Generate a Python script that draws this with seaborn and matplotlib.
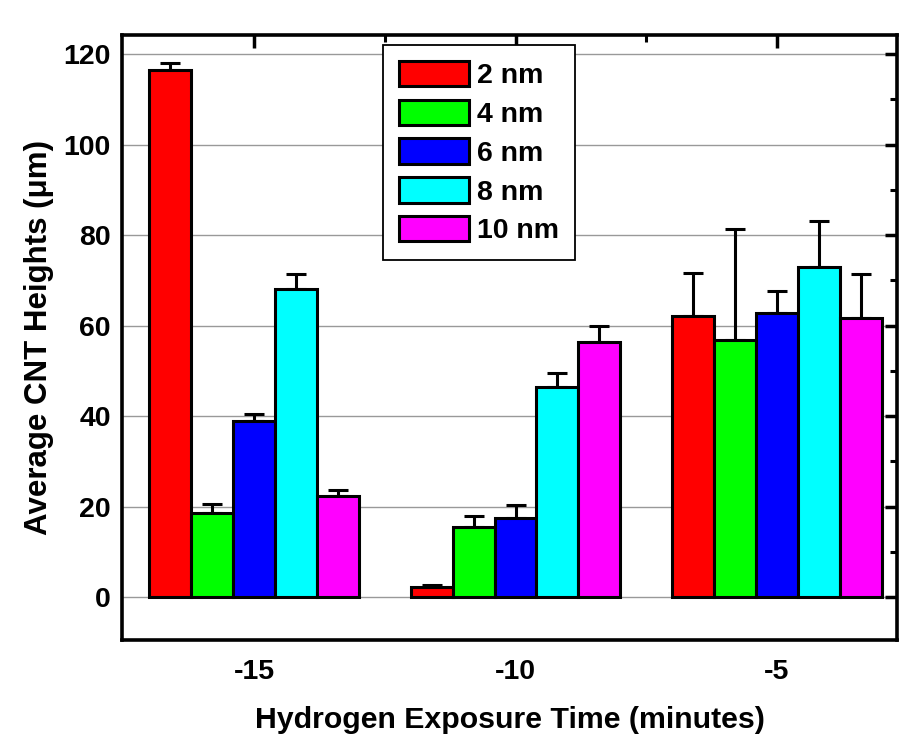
import numpy as np
import pandas as pd
import matplotlib
matplotlib.use("Agg")
import matplotlib.pyplot as plt
from matplotlib.patches import Patch
from matplotlib.ticker import MultipleLocator, FixedLocator
import seaborn as sns

# data
times = ["-15", "-10", "-5"]
sizes = ["2 nm", "4 nm", "6 nm", "8 nm", "10 nm"]
h_2nm = [116.5, 2.2, 62.0]
h_4nm = [18.6, 15.4, 56.8]
h_6nm = [38.8, 17.5, 62.8]
h_8nm = [68.0, 46.4, 72.9]
h_10nm = [22.3, 56.3, 61.7]
e_2nm = [1.5, 0.4, 9.6]
e_4nm = [2.0, 2.6, 24.5]
e_6nm = [1.7, 2.8, 4.9]
e_8nm = [3.3, 3.1, 10.3]
e_10nm = [1.3, 3.6, 9.6]
colors = ["#FF0000", "#00FF00", "#0000FF", "#00FFFF", "#FF00FF"]

heights = [h_2nm, h_4nm, h_6nm, h_8nm, h_10nm]
errors = [e_2nm, e_4nm, e_6nm, e_8nm, e_10nm]

rows = []
for s, hs, es in zip(sizes, heights, errors):
    for t, h, e in zip(times, hs, es):
        rows.append({"time": t, "size": s, "height": h, "err": e})
df = pd.DataFrame(rows)

sns.set_theme(style="white")
plt.rcParams["font.family"] = ["Liberation Sans", "DejaVu Sans"]
plt.rcParams["font.weight"] = "bold"
plt.rcParams["text.color"] = "black"
plt.rcParams["axes.labelcolor"] = "black"
plt.rcParams["xtick.color"] = "black"
plt.rcParams["ytick.color"] = "black"

fig = plt.figure(figsize=(9.01, 7.43), dpi=100)
ax = fig.add_axes([0.1354, 0.1386, 0.8602, 0.8143])

pal = dict(zip(sizes, colors))
sns.barplot(data=df, x="time", y="height", hue="size", order=times,
            hue_order=sizes, palette=pal, edgecolor="black", linewidth=2.2,
            saturation=1, width=0.8, legend=False, ax=ax, zorder=3)

# upper error bars only
for cont, s in zip(ax.containers, sizes):
    sub = df[df["size"] == s].set_index("time").loc[times]
    xs = [b.get_x() + b.get_width() / 2 for b in cont]
    ys = [b.get_height() for b in cont]
    ax.errorbar(xs, ys, yerr=[np.zeros(len(xs)), sub["err"].values],
                fmt="none", ecolor="black", elinewidth=2.2, capsize=7,
                capthick=2.2, zorder=2)

ax.set_ylim(-9.5, 124.2)
ax.set_xlim(-0.505, 2.459)
ax.yaxis.set_major_locator(MultipleLocator(20))
ax.yaxis.set_minor_locator(MultipleLocator(10))
ax.xaxis.set_minor_locator(FixedLocator([0.5, 1.5]))
ax.yaxis.grid(True, color="#999999", linewidth=1)
ax.set_axisbelow(True)

for sp in ax.spines.values():
    sp.set_linewidth(2.6)
    sp.set_color("black")

ax.tick_params(which="major", direction="in", length=9, width=2.5,
               top=True, right=True, labelsize=20.5, pad=8, colors="black")
ax.tick_params(which="minor", direction="in", length=5, width=2.2,
               top=True, right=True, colors="black")
ax.tick_params(axis="x", which="major", pad=14)
for lab in ax.get_xticklabels() + ax.get_yticklabels():
    lab.set_fontweight("bold")

ax.set_xlabel("Hydrogen Exposure Time (minutes)", fontsize=21.8,
              fontweight="bold", labelpad=15)
ax.set_ylabel("Average CNT Heights (\u03bcm)", fontsize=22.5,
              fontweight="bold", labelpad=7)

handles = [Patch(facecolor=c, edgecolor="black", linewidth=2.2, label=s)
           for s, c in zip(sizes, colors)]
leg = ax.legend(handles=handles, loc="upper left",
                bbox_to_anchor=(0.337, 0.983),
                prop={"weight": "bold", "size": 20.5},
                handlelength=2.45, handleheight=1.0, labelspacing=0.36,
                handletextpad=0.3, borderpad=0.55, borderaxespad=0,
                frameon=True, fancybox=False, framealpha=1)
leg.get_frame().set_edgecolor("black")
leg.get_frame().set_linewidth(1.3)

fig.savefig("out.png", dpi=100)
